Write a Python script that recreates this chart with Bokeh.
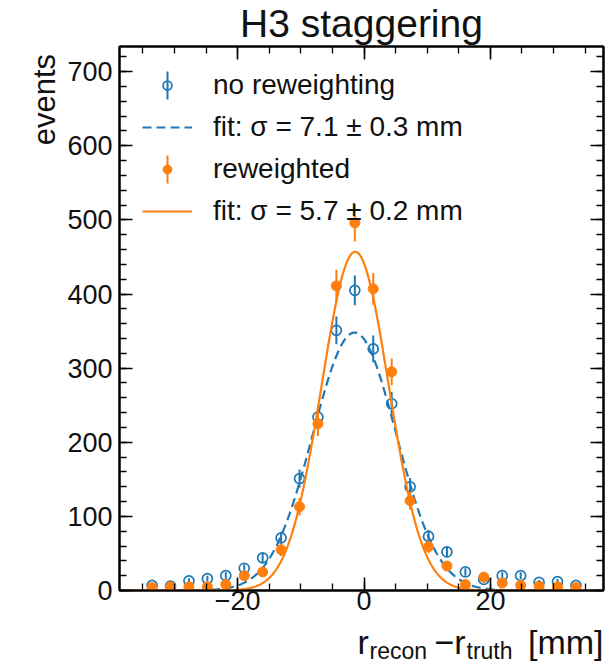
import numpy as np
from bokeh.plotting import figure
from bokeh.layouts import column, row
from bokeh.models import (ColumnDataSource, LinearAxis, SingleIntervalTicker, Legend,
                          LegendItem, Label, BoxAnnotation, Range1d, CustomJSTickFormatter)
from bokeh.embed import file_html
from bokeh.resources import INLINE

# ---------------- data ----------------
bin_edges = np.linspace(-35.0, 35.0, 25)          # 24 bins of r_recon - r_truth [mm]
bin_centers = 0.5 * (bin_edges[:-1] + bin_edges[1:])

nominal_counts = [7, 6, 13, 16, 20, 30, 44, 71, 151, 234, 351, 405,
                  326, 252, 140, 73, 52, 25, 15, 20, 20, 11, 12, 7]
nominal_errors = [2.6, 2.4, 3.6, 4.0, 4.5, 5.5, 6.6, 8.4, 12.3, 15.3, 18.7, 20.1,
                  18.1, 15.9, 11.8, 8.5, 7.2, 5.0, 3.9, 4.5, 4.5, 3.3, 3.5, 2.6]
reweighted_counts = [4, 5, 5, 5, 8, 20, 25, 55, 113, 225, 411, 496,
                     407, 295, 121, 59, 33, 8, 18, 10, 7, 6, 5, 4]
reweighted_errors = [2.0, 2.2, 2.3, 2.3, 3.0, 5.0, 5.6, 8.3, 11.8, 16.5, 21.5, 25.0,
                     21.5, 18.0, 12.0, 8.4, 6.3, 3.2, 4.7, 3.5, 2.8, 2.7, 2.4, 2.0]

# gaussian fit curves (amplitude, mean, width as drawn)
fit_nominal = {"amp": 348.0, "mean": -1.5, "width": 6.6}
fit_reweighted = {"amp": 457.0, "mean": -1.4, "width": 5.3}

labels = ["no reweighting", "fit: σ = 7.1 ± 0.3 mm", "reweighted", "fit: σ = 5.7 ± 0.2 mm"]
x_ticks_major = 20
y_ticks_major = 100

BLUE = "#1f77b4"
ORANGE = "#ff7f0e"
FONT = "Liberation Sans"
TXT = "#111111"

def src(counts, errs):
    c = np.array(counts, float)
    e = np.array(errs, float)
    return ColumnDataSource(dict(x=bin_centers, y=c, lo=c - e, hi=c + e))

src_nom = src(nominal_counts, nominal_errors)
src_rew = src(reweighted_counts, reweighted_errors)

fit_x = np.linspace(-37.5, 37.5, 600)
def gauss(par):
    return par["amp"] * np.exp(-0.5 * ((fit_x - par["mean"]) / par["width"]) ** 2)

# ---------------- main figure ----------------
p = figure(width=548, height=576, x_range=Range1d(-38.7, 37.9), y_range=Range1d(0, 734),
           output_backend="svg", toolbar_location=None,
           min_border_left=54, min_border_right=9, min_border_top=1, min_border_bottom=31,
           background_fill_color="white", border_fill_color="white")
p.xgrid.visible = False
p.ygrid.visible = False
p.outline_line_color = "black"
p.outline_line_width = 2

xt = SingleIntervalTicker(interval=x_ticks_major, num_minor_ticks=4)
yt = SingleIntervalTicker(interval=y_ticks_major, num_minor_ticks=5)

def style_axis(ax, ticker):
    ax.ticker = ticker
    ax.axis_line_width = 2
    ax.axis_line_color = "black"
    ax.major_tick_in = 13
    ax.major_tick_out = 0
    ax.minor_tick_in = 7
    ax.minor_tick_out = 0
    ax.major_tick_line_width = 1.6
    ax.minor_tick_line_width = 1.3
    ax.major_tick_line_color = "black"
    ax.minor_tick_line_color = "black"
    ax.major_label_text_font = FONT
    ax.major_label_text_font_size = "27px"
    ax.major_label_text_color = TXT

style_axis(p.xaxis[0], xt)
style_axis(p.yaxis[0], yt)
p.xaxis[0].major_label_standoff = 0
p.yaxis[0].major_label_standoff = 7
p.xaxis[0].major_label_overrides = {-20: "\u221220", 0: "0", 20: "20"}

top_ax = LinearAxis(formatter=CustomJSTickFormatter(code="return ''"))
right_ax = LinearAxis(formatter=CustomJSTickFormatter(code="return ''"))
for ax, t in ((top_ax, xt), (right_ax, yt)):
    style_axis(ax, t)
    ax.major_label_text_font_size = "0px"
    ax.major_label_standoff = 0
p.add_layout(top_ax, "above")
p.add_layout(right_ax, "right")

# ---------------- glyphs ----------------
p.segment(x0="x", y0="lo", x1="x", y1="hi", source=src_nom, line_color=BLUE, line_width=2)
r_nom = p.scatter(x="x", y="y", source=src_nom, marker="circle", size=10,
                  fill_color=None, line_color=BLUE, line_width=1.7)
r_nom_fit = p.line(fit_x, gauss(fit_nominal), line_color=BLUE, line_width=2.2, line_dash="9 5")

p.segment(x0="x", y0="lo", x1="x", y1="hi", source=src_rew, line_color=ORANGE, line_width=2)
r_rew = p.scatter(x="x", y="y", source=src_rew, marker="circle", size=10,
                  fill_color=ORANGE, line_color=ORANGE, line_width=1)
r_rew_fit = p.line(fit_x, gauss(fit_reweighted), line_color=ORANGE, line_width=2.2)

# ---------------- legend ----------------
legend = Legend(items=[LegendItem(label=labels[0], renderers=[r_nom]),
                       LegendItem(label=labels[1], renderers=[r_nom_fit]),
                       LegendItem(label=labels[2], renderers=[r_rew]),
                       LegendItem(label=labels[3], renderers=[r_rew_fit])],
                location="top_left", margin=23, padding=0, spacing=10,
                glyph_width=50, glyph_height=22, label_height=32, label_standoff=21,
                label_text_font=FONT, label_text_font_size="28px", label_text_color=TXT,
                border_line_color=None, background_fill_alpha=0)
p.add_layout(legend)

# vertical error bars of the legend entries (screen units inside the frame)
for color, cy in ((BLUE, 505), (ORANGE, 421)):
    p.add_layout(BoxAnnotation(left=47, right=49, bottom=cy - 14, top=cy + 14,
                               left_units="screen", right_units="screen",
                               bottom_units="screen", top_units="screen",
                               fill_color=color, fill_alpha=1.0, line_alpha=0))

# ---------------- text panels ----------------
def text_panel(w, h):
    f = figure(width=w, height=h, x_range=Range1d(0, 1), y_range=Range1d(0, 1),
               x_axis_type=None, y_axis_type=None, output_backend="svg",
               toolbar_location=None, min_border=0, outline_line_color=None,
               background_fill_color="white", border_fill_color="white")
    f.xgrid.visible = False
    f.ygrid.visible = False
    return f

def lab(fig, text, x, y, size, align="left", baseline="alphabetic", angle=0.0):
    fig.add_layout(Label(x=x, y=y, x_units="screen", y_units="screen", text=text,
                         text_font=FONT, text_font_size=size, text_color=TXT,
                         text_align=align, text_baseline=baseline, angle=angle))

top_fig = text_panel(612, 45)
lab(top_fig, "H3 staggering", 361, 22, "39px", align="center")

left_fig = text_panel(64, 576)
lab(left_fig, "events", 44, 536.5, "31px", align="right", angle=np.pi / 2)

bottom_fig = text_panel(612, 43)
lab(bottom_fig, "r", 357, 22.6, "34px")
lab(bottom_fig, "recon", 369, 13.1, "23px")
lab(bottom_fig, "\u2212r", 434, 22.6, "34px")
lab(bottom_fig, "truth", 466, 13.1, "23px")
lab(bottom_fig, "[mm]", 603, 22.6, "34px", align="right")

layout = column(top_fig, row(left_fig, p, spacing=0), bottom_fig, spacing=0)

open("out.html", "w").write(file_html(layout, INLINE))
